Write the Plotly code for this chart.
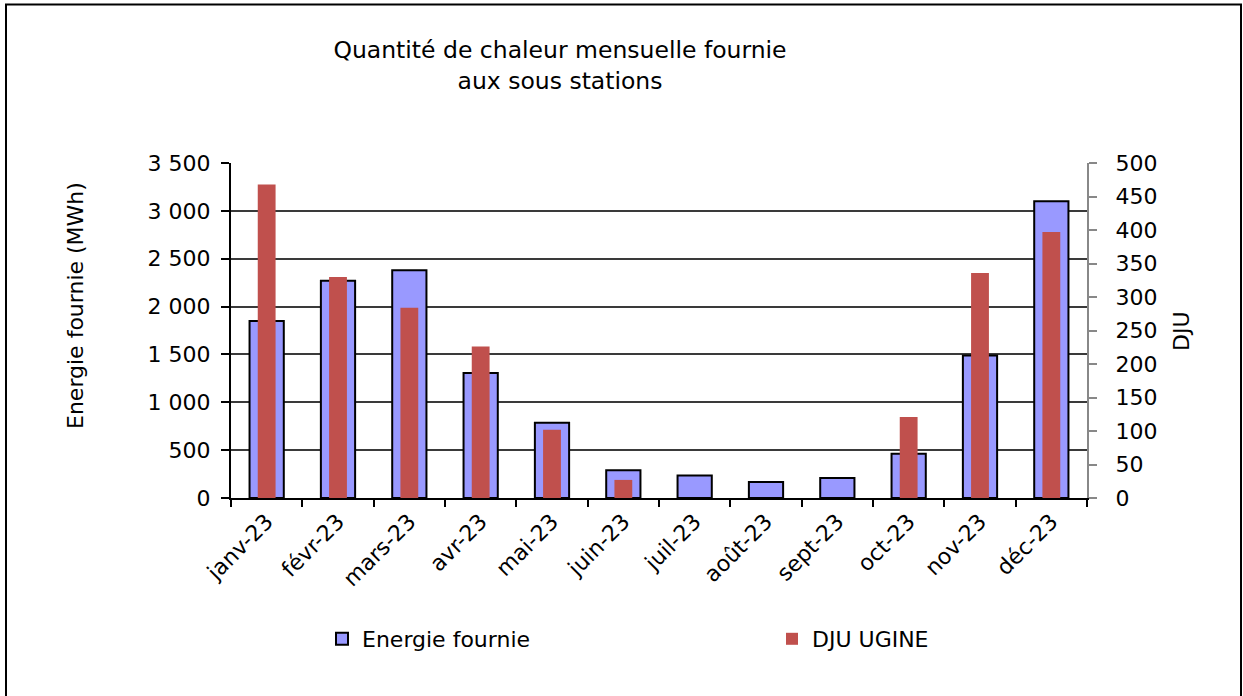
import plotly.graph_objects as go

months = ["janv-23", "févr-23", "mars-23", "avr-23", "mai-23", "juin-23",
          "juil-23", "août-23", "sept-23", "oct-23", "nov-23", "déc-23"]
energie = [1850, 2270, 2380, 1305, 785, 290, 236, 167, 210, 463, 1490, 3100]
dju = [468, 330, 284, 226, 102, 27, 0, 0, 0, 121, 336, 397]

FONT = "DejaVu Sans"
W, H = 1243, 696
L, R, T, B = 231, 156, 163, 198
PW, PH = W - L - R, H - T - B

def px_x(p):
    return (p - L) / PW

def px_y(p):
    return (H - B - p) / PH

fig = go.Figure()
fig.add_trace(go.Bar(
    x=months, y=energie, name="Energie fournie", yaxis="y", width=0.48,
    marker=dict(color="#9999FF", line=dict(color="black", width=2)),
    legend="legend",
))
fig.add_trace(go.Bar(
    x=months, y=dju, name="DJU UGINE", yaxis="y2", width=0.25,
    marker=dict(color="#C0504D", line=dict(width=0)),
    legend="legend2",
))

leg_common = dict(orientation="h", yanchor="middle", xanchor="left",
                  font=dict(family=FONT, size=22, color="black"),
                  bgcolor="rgba(0,0,0,0)", itemwidth=30)

fig.update_layout(
    width=W, height=H,
    margin=dict(l=L, r=R, t=T, b=B, pad=0),
    paper_bgcolor="white", plot_bgcolor="white",
    barmode="overlay",
    separators=", ",
    font=dict(family=FONT, size=22, color="black"),
    title=dict(text="Quantité de chaleur mensuelle fournie<br>aux sous stations",
               x=560 / W, xref="container", xanchor="center",
               y=1 - 58 / H, yref="container", yanchor="middle",
               font=dict(family=FONT, size=23.5, color="black")),
    xaxis=dict(
        type="category", tickangle=-45, tickson="boundaries",
        ticks="outside", ticklen=7, tickwidth=1.5, tickcolor="black",
        showline=True, linecolor="black", linewidth=2, mirror=False,
        showgrid=False, tickfont=dict(size=22),
    ),
    yaxis=dict(
        range=[0, 3500], dtick=500, tickformat=",d",
        ticks="outside", ticklen=8, tickwidth=1.5, tickcolor="black",
        showline=True, linecolor="black", linewidth=2,
        showgrid=True, gridcolor="#3a3a3a", gridwidth=1.5,
        zeroline=False, ticklabelstandoff=6, tickfont=dict(size=22),
    ),
    yaxis2=dict(
        range=[0, 500], dtick=50, overlaying="y", side="right",
        ticks="outside", ticklen=8, tickwidth=1.5, tickcolor="#888888",
        showline=True, linecolor="#888888", linewidth=2,
        showgrid=False, zeroline=False, ticklabelstandoff=14,
        tickfont=dict(size=22),
    ),
    legend=dict(x=px_x(322), y=px_y(639), **leg_common),
    legend2=dict(x=px_x(772), y=px_y(639), **leg_common),
    showlegend=True,
)

fig.add_annotation(text="Energie fournie (MWh)", textangle=-90,
                   xref="paper", yref="paper", x=px_x(75), y=px_y(306),
                   xanchor="center", yanchor="middle",
                   showarrow=False, font=dict(family=FONT, size=22, color="black"))
fig.add_annotation(text="DJU", textangle=-90,
                   xref="paper", yref="paper", x=px_x(1181), y=px_y(331),
                   xanchor="center", yanchor="middle",
                   showarrow=False, font=dict(family=FONT, size=22, color="black"))

fig.add_shape(type="rect", xref="paper", yref="paper",
              x0=px_x(6), x1=px_x(1241), y0=px_y(705), y1=px_y(4.5),
              line=dict(color="black", width=2), layer="above")

fig.write_html("out.html", config={"displayModeBar": False},
               post_script="document.body.style.margin='0';")
